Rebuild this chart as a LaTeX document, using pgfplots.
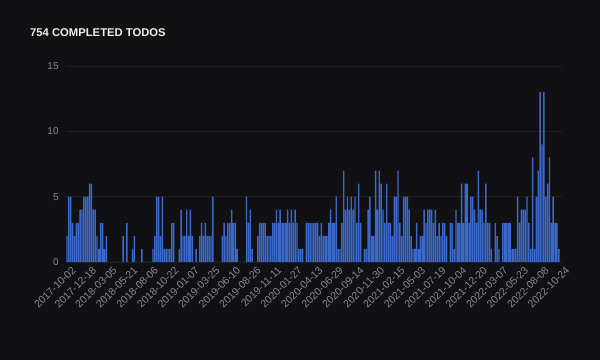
\documentclass[border=0pt]{standalone}
\usepackage{fontspec}
\setmainfont{Liberation Sans}
\usepackage{pgfplots}
\pgfplotsset{compat=1.18}
\definecolor{bgcol}{HTML}{111113}
\definecolor{barcol}{HTML}{3C68CA}
\definecolor{gridcol}{HTML}{1F1F22}
\definecolor{tickcol}{HTML}{8A8A8E}
\definecolor{titlecol}{HTML}{EDEDED}
\begin{document}
\begin{tikzpicture}
\fill[bgcol] (0bp,0bp) rectangle (600bp,360bp);
\node[anchor=base west, inner sep=0, text=titlecol, font=\fontsize{11.3}{13}\selectfont\bfseries] at (30bp,323bp) {754 COMPLETED TODOS};
\begin{axis}[
  at={(66.1bp,98bp)}, anchor=south west,
  scale only axis, width=495.5bp, height=196bp,
  xmin=-0.5, xmax=264.5, ymin=0, ymax=15,
  axis line style={draw=none},
  major tick style={draw=none},
  ymajorgrids, grid style={gridcol, line width=0.6pt},
  ytick={0,5,10,15},
  yticklabel style={text=tickcol, font=\fontsize{10}{12}\selectfont, xshift=-4bp},
  xtick={0,11,...,264},
  xticklabels={2017-10-02,2017-12-18,2018-03-05,2018-05-21,2018-08-06,2018-10-22,2019-01-07,2019-03-25,2019-06-10,2019-08-26,2019-11-11,2020-01-27,2020-04-13,2020-06-29,2020-09-14,2020-11-30,2021-02-15,2021-05-03,2021-07-19,2021-10-04,2021-12-20,2022-03-07,2022-05-23,2022-08-08,2022-10-24},
  xticklabel style={text=tickcol, font=\fontsize{10.5}{12}\selectfont, rotate=45, anchor=north east, inner sep=1.5pt, yshift=-4bp, xshift=2bp},
  /pgf/number format/assume math mode=true,
]
\addplot[ybar, fill=barcol, draw=none, bar width=0.75] coordinates {
(0,2)(1,5)(2,5)(3,3)(4,2)(5,3)(6,3)(7,4)(8,4)(9,5)
(10,5)(11,5)(12,6)(13,6)(14,4)(15,4)(16,2)(17,1)(18,3)(19,3)
(20,1)(21,2)(22,0)(23,0)(24,0)(25,0)(26,0)(27,0)(28,0)(29,0)
(30,2)(31,0)(32,3)(33,0)(34,0)(35,1)(36,2)(37,0)(38,0)(39,0)
(40,1)(41,0)(42,0)(43,0)(44,0)(45,0)(46,1)(47,2)(48,5)(49,5)
(50,2)(51,5)(52,1)(53,1)(54,1)(55,1)(56,3)(57,3)(58,0)(59,0)
(60,1)(61,4)(62,2)(63,2)(64,4)(65,2)(66,4)(67,2)(68,0)(69,1)
(70,0)(71,2)(72,3)(73,2)(74,3)(75,2)(76,2)(77,2)(78,5)(79,0)
(80,0)(81,0)(82,0)(83,2)(84,3)(85,2)(86,3)(87,3)(88,4)(89,3)
(90,3)(91,1)(92,0)(93,0)(94,0)(95,0)(96,5)(97,3)(98,4)(99,1)
(100,0)(101,0)(102,2)(103,3)(104,3)(105,3)(106,3)(107,2)(108,2)(109,2)
(110,3)(111,3)(112,4)(113,3)(114,4)(115,3)(116,3)(117,3)(118,4)(119,3)
(120,4)(121,3)(122,4)(123,3)(124,1)(125,1)(126,1)(127,0)(128,3)(129,3)
(130,3)(131,3)(132,3)(133,3)(134,3)(135,2)(136,3)(137,2)(138,2)(139,2)
(140,3)(141,4)(142,3)(143,3)(144,5)(145,1)(146,1)(147,3)(148,7)(149,4)
(150,5)(151,4)(152,5)(153,4)(154,5)(155,3)(156,6)(157,3)(158,0)(159,1)
(160,1)(161,4)(162,5)(163,2)(164,2)(165,7)(166,4)(167,7)(168,6)(169,4)
(170,3)(171,6)(172,3)(173,3)(174,2)(175,5)(176,5)(177,7)(178,3)(179,2)
(180,5)(181,5)(182,5)(183,4)(184,2)(185,1)(186,1)(187,3)(188,1)(189,2)
(190,2)(191,4)(192,3)(193,4)(194,4)(195,4)(196,3)(197,4)(198,2)(199,3)
(200,2)(201,3)(202,3)(203,2)(204,0)(205,3)(206,3)(207,1)(208,4)(209,3)
(210,3)(211,6)(212,3)(213,6)(214,6)(215,3)(216,5)(217,5)(218,4)(219,3)
(220,7)(221,4)(222,4)(223,3)(224,6)(225,3)(226,3)(227,1)(228,0)(229,3)
(230,2)(231,1)(232,0)(233,3)(234,3)(235,3)(236,3)(237,3)(238,1)(239,1)
(240,1)(241,5)(242,3)(243,4)(244,4)(245,4)(246,5)(247,3)(248,1)(249,8)
(250,1)(251,5)(252,7)(253,13)(254,9)(255,13)(256,5)(257,6)(258,8)(259,3)
(260,5)(261,3)(262,3)(263,1)
};
\end{axis}
\end{tikzpicture}
\end{document}
